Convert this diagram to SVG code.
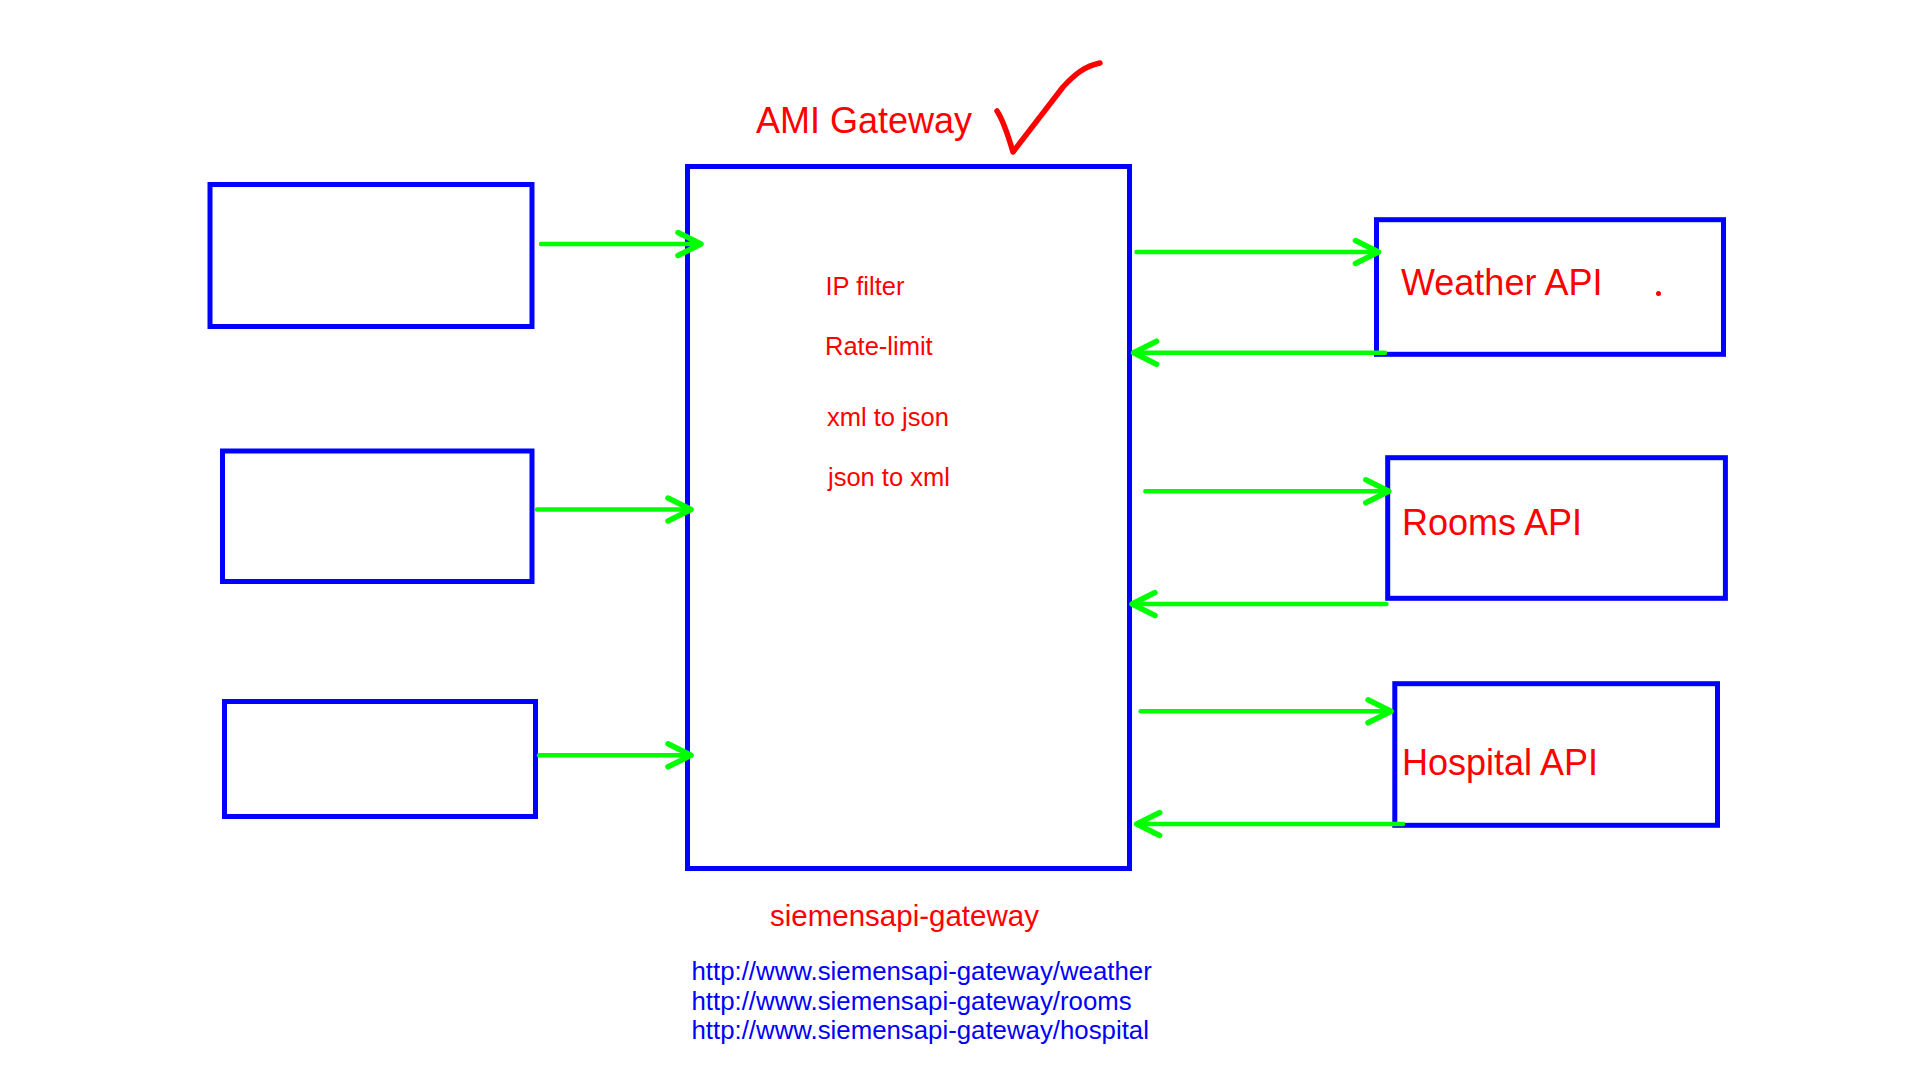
<svg xmlns="http://www.w3.org/2000/svg" width="1920" height="1080" viewBox="0 0 1920 1080">
<style>
  .box{fill:none;stroke:#0000ff;stroke-width:5}
  .conn{fill:none;stroke:#00ff00;stroke-width:4.5;stroke-linecap:round;marker-end:url(#ah)}
  .red{fill:#ff0000;font-family:"Liberation Sans",Arial,sans-serif}
  .url{fill:#0000ff;font-family:"Liberation Sans",Arial,sans-serif;font-size:25.8px}
  .api{font-size:36px}
  .op{font-size:25.5px}
</style>
<defs>
  <marker id="ah" markerUnits="userSpaceOnUse" markerWidth="40" markerHeight="40" viewBox="-30 -20 40 40" refX="0" refY="0" orient="auto" overflow="visible">
    <path d="M-23 -11.5 L0 0 L-23 11.5" fill="none" stroke="#00ff00" stroke-width="5.5" stroke-linecap="round" stroke-linejoin="round"/>
  </marker>
</defs>
<rect width="1920" height="1080" fill="#ffffff"/>

<g id="client1"><rect class="box" x="210" y="184.5" width="322" height="142"/></g>
<g id="client2"><rect class="box" x="222.5" y="451" width="309.5" height="130.5"/></g>
<g id="client3"><rect class="box" x="224.5" y="701.5" width="311" height="115"/></g>

<g id="gateway">
  <rect class="box" x="687.5" y="166.5" width="442" height="702"/>
  <text class="red" x="756" y="132.7" font-size="36">AMI Gateway</text>
  <path d="M997 111 C1003 120 1008 135 1013 152 L1063 87 C1075 74 1085 66 1100 63" fill="none" stroke="#ff0000" stroke-width="5.5" stroke-linecap="round" stroke-linejoin="round"/>
  <text class="red op" x="825.5" y="295">IP filter</text>
  <text class="red op" x="825" y="355">Rate-limit</text>
  <text class="red op" x="827" y="426">xml to json</text>
  <text class="red op" x="828" y="486">json to xml</text>
  <text class="red" x="770" y="926" font-size="29.5">siemensapi-gateway</text>
  <text class="url" x="691.5" y="980">http://www.siemensapi-gateway/weather</text>
  <text class="url" x="691.5" y="1009.5">http://www.siemensapi-gateway/rooms</text>
  <text class="url" x="691.5" y="1039.3">http://www.siemensapi-gateway/hospital</text>
</g>

<g id="weather">
  <rect class="box" x="1376.5" y="219.7" width="347" height="134.6"/>
  <text class="red api" x="1401" y="294.7">Weather API</text>
  <circle cx="1658.5" cy="293.5" r="2.5" fill="#ff0000"/>
</g>
<g id="rooms">
  <rect class="box" x="1387.7" y="457.7" width="337.7" height="140.6"/>
  <text class="red api" x="1402" y="534.7">Rooms API</text>
</g>
<g id="hospital">
  <rect class="box" x="1394.8" y="683.7" width="322.7" height="141.6"/>
  <text class="red api" x="1402" y="774.7">Hospital API</text>
</g>

<g id="connectors">
  <line class="conn" x1="541" y1="244" x2="701" y2="244"/>
  <line class="conn" x1="537" y1="509.5" x2="691" y2="509.5"/>
  <line class="conn" x1="539" y1="755.3" x2="691" y2="755.3"/>
  <line class="conn" x1="1136.5" y1="252" x2="1378.5" y2="252"/>
  <line class="conn" x1="1385" y1="352.7" x2="1133.6" y2="352.7"/>
  <line class="conn" x1="1145.4" y1="491.3" x2="1388.8" y2="491.3"/>
  <line class="conn" x1="1386.4" y1="604" x2="1132" y2="604"/>
  <line class="conn" x1="1140.7" y1="711.3" x2="1391" y2="711.3"/>
  <line class="conn" x1="1403" y1="824" x2="1136.7" y2="824"/>
</g>
</svg>
